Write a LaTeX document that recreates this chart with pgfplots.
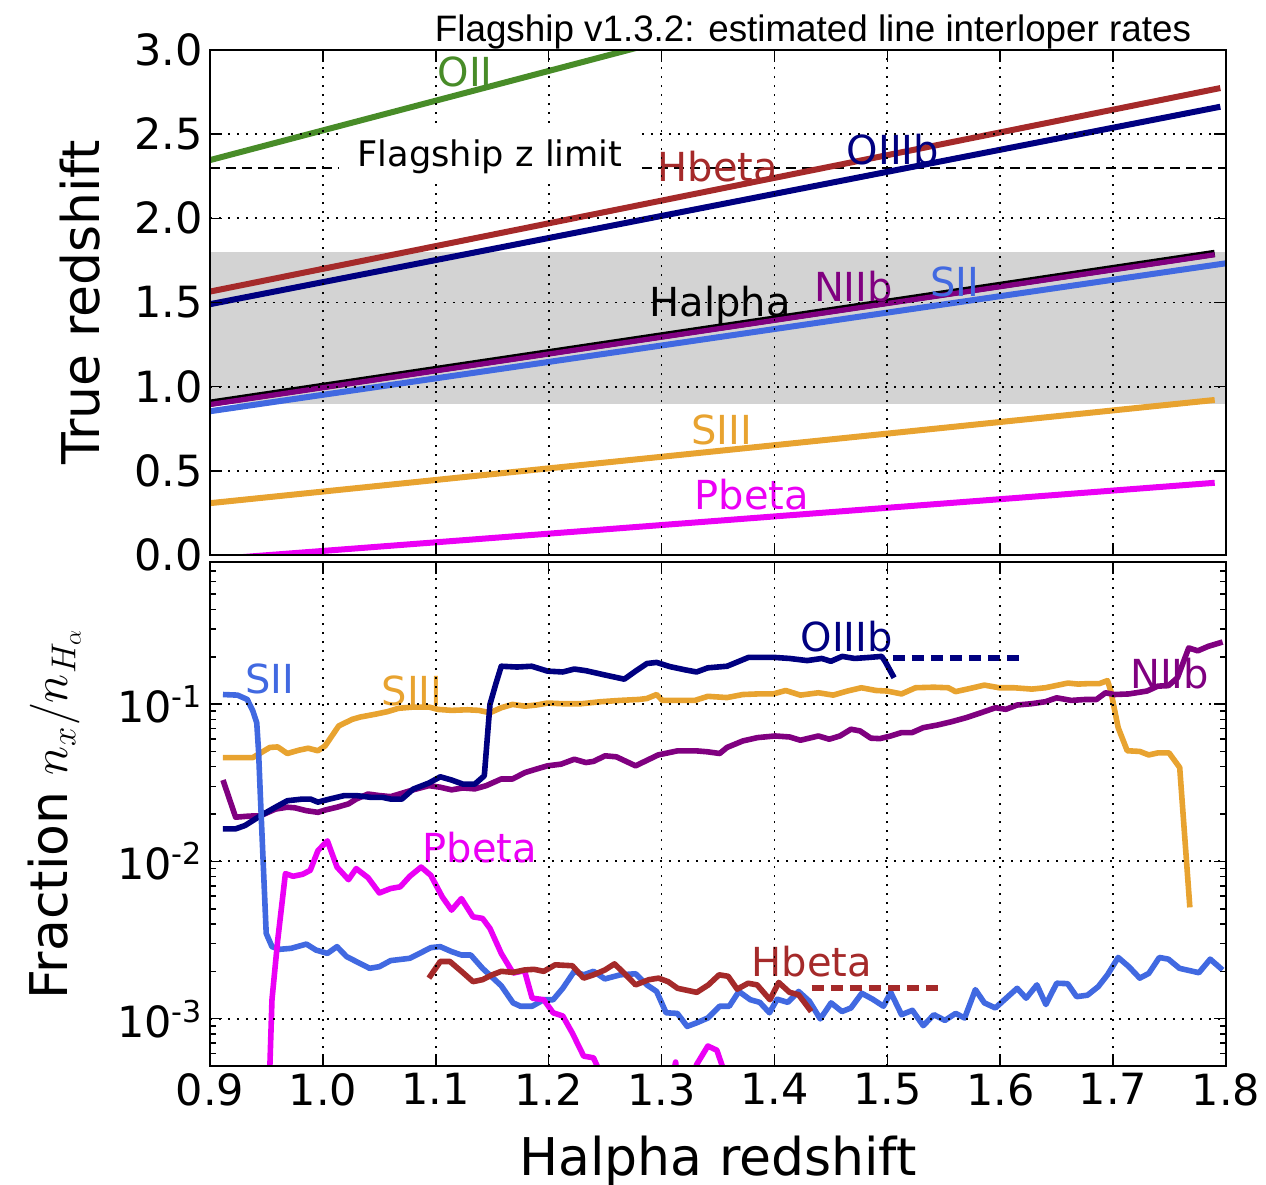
\documentclass[border=0pt]{standalone}
\usepackage{pgfplots}
\pgfplotsset{compat=1.18}
\usepackage{fontspec}
\setmainfont{DejaVu Sans}
\newfontfamily\titlefont{Liberation Sans}
\definecolor{cOII}{RGB}{72,140,40}
\definecolor{cHb}{RGB}{165,42,42}
\definecolor{cOIII}{RGB}{0,0,128}
\definecolor{cNII}{RGB}{128,0,128}
\definecolor{cSII}{RGB}{65,105,225}
\definecolor{cSIII}{RGB}{232,163,48}
\definecolor{cPb}{RGB}{235,0,245}
\definecolor{band}{RGB}{211,211,211}
\newcommand{\lab}{\fontsize{20}{24}\selectfont}
\pgfplotsset{
  common/.style={
    scale only axis, width=508pt, xmin=0.9, xmax=1.8,
    axis line style={line width=1.2pt},
    every tick/.style={black, line width=0.8pt},
    major tick length=6pt, minor tick length=3pt,
    tick align=inside,
    xtick={0.9,1.0,1.1,1.2,1.3,1.4,1.5,1.6,1.7,1.8},
    grid=major,
    major grid style={black, line width=0.9pt, dash pattern=on 1pt off 3.5pt},
    axis on top,
    tick label style={font=\fontsize{21.5}{24}\selectfont},
    /pgf/number format/assume math mode=true,
    every axis plot/.append style={line join=round},
  }
}
\begin{document}
\begin{tikzpicture}
\useasboundingbox (-105pt,25pt) rectangle (528pt,-567.5pt);
% ---------------- top panel ----------------
\begin{axis}[common, at={(0,0)}, anchor=north west, height=252.5pt,
  ymin=0, ymax=3, ytick={0,0.5,1,1.5,2,2.5,3},
  xticklabels={},
  yticklabel style={/pgf/number format/.cd, fixed, fixed zerofill, precision=1},
  ylabel={True redshift},
  ylabel style={font=\fontsize{26}{30}\selectfont, at={(axis description cs:-0.1083,0.5)}, anchor=base, rotate=0},
]
\fill[band] (axis cs:0.9,0.9) rectangle (axis cs:1.8,1.8);
\addplot[black, line width=1pt, dash pattern=on 5pt off 3pt] coordinates {(0.9,2.3) (1.8,2.3)};
\addplot[cOII, line width=3pt] coordinates {(0.9,2.346) (1.3,3.052)};
\addplot[cHb, line width=3pt] coordinates {(0.9,1.565) (1.795,2.774)};
\addplot[cOIII, line width=3pt] coordinates {(0.9,1.490) (1.795,2.663)};
\addplot[black, line width=3.6pt] coordinates {(0.9,0.902) (1.79,1.792)};
\addplot[cNII, line width=2.6pt] coordinates {(0.9,0.894) (1.79,1.784)};
\addplot[cSII, line width=3pt] coordinates {(0.9,0.854) (1.8,1.733)};
\addplot[cSIII, line width=3pt] coordinates {(0.9,0.308) (1.79,0.921)};
\addplot[cPb, line width=3pt] coordinates {(0.9,-0.027) (1.79,0.429)};
\node[text=cOII, font=\lab] at (axis cs:1.126,2.87) {OII};
\node[text=cHb, font=\lab] at (axis cs:1.350,2.308) {Hbeta};
\node[text=cOIII, font=\lab] at (axis cs:1.505,2.406) {OIIIb};
\node[text=black, font=\lab] at (axis cs:1.352,1.485) {Halpha};
\node[text=cNII, font=\lab] at (axis cs:1.470,1.592) {NIIb};
\node[text=cSII, font=\lab] at (axis cs:1.560,1.622) {SII};
\node[text=cSIII, font=\lab] at (axis cs:1.3535,0.743) {SIII};
\node[text=cPb, font=\lab] at (axis cs:1.380,0.357) {Pbeta};
\coordinate (zl) at (axis cs:1.148,2.365);
\coordinate (tt) at (rel axis cs:0.5935,1);
\end{axis}
\node[fill=white, inner xsep=9pt, inner ysep=5pt, font=\fontsize{17.6}{21}\selectfont] at (zl) {Flagship z limit};
\node[anchor=base, font=\titlefont\fontsize{18.4}{22}\selectfont] at ([yshift=4.5pt]tt) {Flagship v1.3.2: estimated line interloper rates};
% ---------------- bottom panel ----------------
\begin{axis}[common, at={(0,-256pt)}, anchor=north west, height=252pt,
  ymode=log, ymin=5e-4, ymax=0.8,
  ytick={1e-3,1e-2,1e-1},
  yticklabels={10\textsuperscript{-3},10\textsuperscript{-2},10\textsuperscript{-1}},
  minor ytick={6e-4,7e-4,8e-4,9e-4,2e-3,3e-3,4e-3,5e-3,6e-3,7e-3,8e-3,9e-3,2e-2,3e-2,4e-2,5e-2,6e-2,7e-2,8e-2,9e-2,0.2,0.3,0.4,0.5,0.6,0.7},
  xticklabel style={/pgf/number format/.cd, fixed, fixed zerofill, precision=1},
  xlabel={Halpha redshift},
  xlabel style={font=\fontsize{26}{30}\selectfont, at={(axis description cs:0.5,-0.2163)}, anchor=base},
  ylabel={Fraction $n_x/n_{H_\alpha}$},
  ylabel style={font=\fontsize{26}{30}\selectfont, at={(axis description cs:-0.1398,0.5)}, anchor=base, rotate=0},
]
% SIII
\addplot[cSIII, line width=2.8pt] coordinates {
(0.9115,0.0457) (0.938,0.0457) (0.953,0.0530) (0.960,0.0534) (0.9685,0.0485) (0.9786,0.0509) (0.987,0.0524) (0.9956,0.0505) (1.002,0.0542) (1.014,0.0726) (1.026,0.080) (1.033,0.0827) (1.046,0.0861) (1.057,0.0894) (1.067,0.094) (1.080,0.0957) (1.094,0.0957) (1.102,0.0925) (1.114,0.0912) (1.128,0.092) (1.138,0.0912) (1.148,0.0881) (1.158,0.0948) (1.168,0.0995) (1.179,0.097) (1.189,0.0986) (1.199,0.1015) (1.2125,0.1005) (1.229,0.1005) (1.246,0.1035) (1.263,0.1055) (1.280,0.107) (1.287,0.1085) (1.2956,0.115) (1.3007,0.1055) (1.314,0.1055) (1.3295,0.1055) (1.341,0.112) (1.358,0.110) (1.372,0.115) (1.385,0.116) (1.399,0.116) (1.410,0.122) (1.423,0.114) (1.439,0.118) (1.452,0.114) (1.4646,0.121) (1.477,0.127) (1.490,0.122) (1.4998,0.121) (1.5126,0.116) (1.525,0.127) (1.541,0.128) (1.554,0.127) (1.5605,0.120) (1.5733,0.1257) (1.586,0.132) (1.599,0.127) (1.612,0.127) (1.628,0.1245) (1.640,0.127) (1.660,0.136) (1.669,0.134) (1.679,0.135) (1.688,0.135) (1.695,0.141) (1.698,0.121) (1.7045,0.0708) (1.7125,0.0505) (1.7236,0.050) (1.7316,0.0475) (1.740,0.049) (1.7495,0.049) (1.759,0.0395) (1.768,0.0051)};
% NIIb
\addplot[cNII, line width=2.8pt] coordinates {
(0.9115,0.0329) (0.9227,0.0191) (0.9346,0.0194) (0.9447,0.0195) (0.958,0.0215) (0.9685,0.0221) (0.9753,0.0219) (0.9854,0.021) (0.9956,0.0205) (1.002,0.0212) (1.0125,0.0221) (1.0227,0.0232) (1.0295,0.0249) (1.040,0.0268) (1.050,0.0262) (1.060,0.0258) (1.070,0.0271) (1.080,0.0285) (1.094,0.0303) (1.104,0.0296) (1.114,0.0285) (1.124,0.0293) (1.1346,0.0289) (1.1447,0.0303) (1.158,0.0334) (1.168,0.0334) (1.179,0.0367) (1.189,0.0386) (1.199,0.0405) (1.211,0.0415) (1.2227,0.0446) (1.233,0.0425) (1.2397,0.0432) (1.250,0.0469) (1.260,0.0462) (1.277,0.0405) (1.297,0.0475) (1.314,0.0504) (1.331,0.0504) (1.341,0.0497) (1.3515,0.0485) (1.358,0.053) (1.372,0.0583) (1.385,0.0612) (1.4006,0.0627) (1.4134,0.0618) (1.423,0.0589) (1.439,0.0627) (1.4485,0.0598) (1.458,0.0627) (1.4678,0.0692) (1.4758,0.0675) (1.4854,0.0607) (1.4934,0.0603) (1.503,0.0627) (1.5126,0.0659) (1.522,0.0659) (1.5318,0.0708) (1.5445,0.0736) (1.557,0.0773) (1.570,0.082) (1.583,0.0881) (1.5958,0.0948) (1.605,0.0926) (1.615,0.0986) (1.6277,0.1005) (1.640,0.1035) (1.650,0.1096) (1.663,0.1055) (1.6757,0.107) (1.6853,0.107) (1.6933,0.118) (1.701,0.115) (1.714,0.116) (1.730,0.121) (1.7396,0.130) (1.749,0.131) (1.757,0.147) (1.767,0.2275) (1.775,0.218) (1.7844,0.233) (1.797,0.248)};
% OIIIb
\addplot[cOIII, line width=2.8pt] coordinates {
(0.9115,0.0161) (0.9227,0.0161) (0.931,0.0169) (0.9447,0.0195) (0.958,0.0221) (0.9685,0.0243) (0.982,0.0249) (0.989,0.0249) (0.9956,0.0238) (1.006,0.0249) (1.019,0.0262) (1.0295,0.0262) (1.043,0.0255) (1.053,0.0255) (1.060,0.0249) (1.070,0.0249) (1.080,0.0288) (1.094,0.0315) (1.104,0.0345) (1.114,0.0329) (1.124,0.031) (1.1346,0.031) (1.143,0.035) (1.148,0.0995) (1.153,0.133) (1.158,0.174) (1.172,0.172) (1.185,0.174) (1.199,0.162) (1.2125,0.160) (1.2227,0.167) (1.233,0.163) (1.250,0.153) (1.267,0.144) (1.277,0.162) (1.287,0.181) (1.2956,0.184) (1.3075,0.173) (1.321,0.165) (1.331,0.160) (1.341,0.170) (1.358,0.174) (1.377,0.198) (1.4,0.198) (1.4134,0.195) (1.429,0.189) (1.442,0.195) (1.450,0.187) (1.460,0.201) (1.471,0.195) (1.484,0.198) (1.495,0.201) (1.498,0.187) (1.506,0.147)};
\addplot[cOIII, line width=2.8pt, dash pattern=on 6pt off 3.5pt] coordinates {(1.505,0.197) (1.6175,0.197)};
% SII
\addplot[cSII, line width=2.8pt] coordinates {
(0.9115,0.115) (0.9244,0.114) (0.933,0.107) (0.938,0.0903) (0.9414,0.0762) (0.943,0.0505) (0.9448,0.0243) (0.9498,0.00348) (0.9549,0.00287) (0.9617,0.00276) (0.9719,0.0028) (0.9854,0.00298) (0.9939,0.00273) (1.004,0.0026) (1.0125,0.00287) (1.021,0.00248) (1.0295,0.00231) (1.0414,0.00209) (1.050,0.00214) (1.060,0.00234) (1.077,0.00242) (1.087,0.00263) (1.0956,0.00283) (1.104,0.00287) (1.114,0.00267) (1.1227,0.00254) (1.131,0.00254) (1.1414,0.00209) (1.158,0.00162) (1.1685,0.00126) (1.175,0.0012) (1.1854,0.0012) (1.1956,0.00132) (1.204,0.00132) (1.2125,0.00156) (1.2227,0.002) (1.231,0.0019) (1.2397,0.002) (1.2498,0.00179) (1.2634,0.0019) (1.277,0.00193) (1.287,0.00164) (1.2956,0.00149) (1.304,0.00109) (1.314,0.00108) (1.3227,0.000893) (1.331,0.00094) (1.341,0.00101) (1.3515,0.0012) (1.360,0.0012) (1.3685,0.00149) (1.3786,0.00132) (1.387,0.00127) (1.3956,0.00109) (1.4024,0.00133) (1.4118,0.00127) (1.4214,0.00149) (1.431,0.00129) (1.4406,0.000996) (1.4502,0.00126) (1.4598,0.00111) (1.4678,0.00117) (1.4774,0.00145) (1.487,0.00133) (1.4966,0.0012) (1.503,0.00147) (1.5126,0.00106) (1.5222,0.00113) (1.5318,0.000903) (1.5413,0.00106) (1.551,0.000975) (1.5605,0.00108) (1.5685,0.00101) (1.578,0.00153) (1.586,0.00126) (1.5957,0.00117) (1.6053,0.00135) (1.615,0.00156) (1.623,0.00135) (1.6325,0.00164) (1.6405,0.00123) (1.650,0.00168) (1.6597,0.00167) (1.6677,0.00138) (1.6773,0.00141) (1.6869,0.0016) (1.695,0.0019) (1.7045,0.00245) (1.714,0.00214) (1.7236,0.00181) (1.7316,0.00194) (1.741,0.00245) (1.749,0.00239) (1.7588,0.00209) (1.776,0.00196) (1.786,0.00239) (1.797,0.00204)};
% Pbeta
\addplot[cPb, line width=2.8pt] coordinates {
(0.950,0.0001) (0.9549,0.00132) (0.96,0.00316) (0.9668,0.00836) (0.9736,0.00804) (0.982,0.00828) (0.9888,0.00877) (0.9956,0.0117) (1.004,0.0135) (1.0125,0.0092) (1.0227,0.00765) (1.0295,0.0090) (1.040,0.00788) (1.050,0.0063) (1.060,0.00672) (1.0685,0.00689) (1.077,0.00804) (1.087,0.0092) (1.0956,0.00815) (1.1058,0.00594) (1.114,0.0049) (1.1227,0.0058) (1.133,0.00444) (1.1414,0.00434) (1.148,0.00375) (1.158,0.0026) (1.1685,0.00195) (1.1786,0.00202) (1.1854,0.00135) (1.1956,0.00132) (1.204,0.00109) (1.2125,0.00104) (1.221,0.00081) (1.231,0.000578) (1.2397,0.000564) (1.243,0.0005) (1.250,0.0003) (1.305,0.0003) (1.3125,0.00053) (1.316,0.0003) (1.325,0.0003) (1.331,0.00051) (1.341,0.00067) (1.349,0.00063) (1.356,0.00045) (1.36,0.0003)};
% Hbeta
\addplot[cHb, line width=2.8pt] coordinates {
(1.0939,0.00181) (1.104,0.00231) (1.1125,0.00231) (1.1227,0.002) (1.133,0.00172) (1.1414,0.00177) (1.150,0.0019) (1.158,0.002) (1.1685,0.00197) (1.1786,0.00204) (1.187,0.00206) (1.1956,0.002) (1.2058,0.0022) (1.221,0.00217) (1.231,0.00181) (1.2397,0.0019) (1.2498,0.00204) (1.2583,0.00223) (1.2668,0.00195) (1.277,0.00164) (1.2888,0.00177) (1.2973,0.00181) (1.3058,0.00172) (1.3142,0.00156) (1.3312,0.00147) (1.3415,0.00164) (1.351,0.0019) (1.359,0.00186) (1.367,0.00154) (1.3767,0.00168) (1.3847,0.00164) (1.396,0.00132) (1.4038,0.0017) (1.4134,0.00147) (1.4214,0.00142) (1.4326,0.00111)};
\addplot[cHb, line width=2.8pt, dash pattern=on 6pt off 3.5pt] coordinates {(1.433,0.00157) (1.5467,0.00157)};
\node[text=cSII, font=\lab] at (axis cs:0.953,0.144) {SII};
\node[text=cSIII, font=\lab] at (axis cs:1.079,0.121) {SIII};
\node[text=cOIII, font=\lab] at (axis cs:1.464,0.269) {OIIIb};
\node[text=cNII, font=\lab] at (axis cs:1.750,0.157) {NIIb};
\node[text=cPb, font=\lab] at (axis cs:1.139,0.0123) {Pbeta};
\node[text=cHb, font=\lab] at (axis cs:1.433,0.0023) {Hbeta};
\end{axis}
\end{tikzpicture}
\end{document}
